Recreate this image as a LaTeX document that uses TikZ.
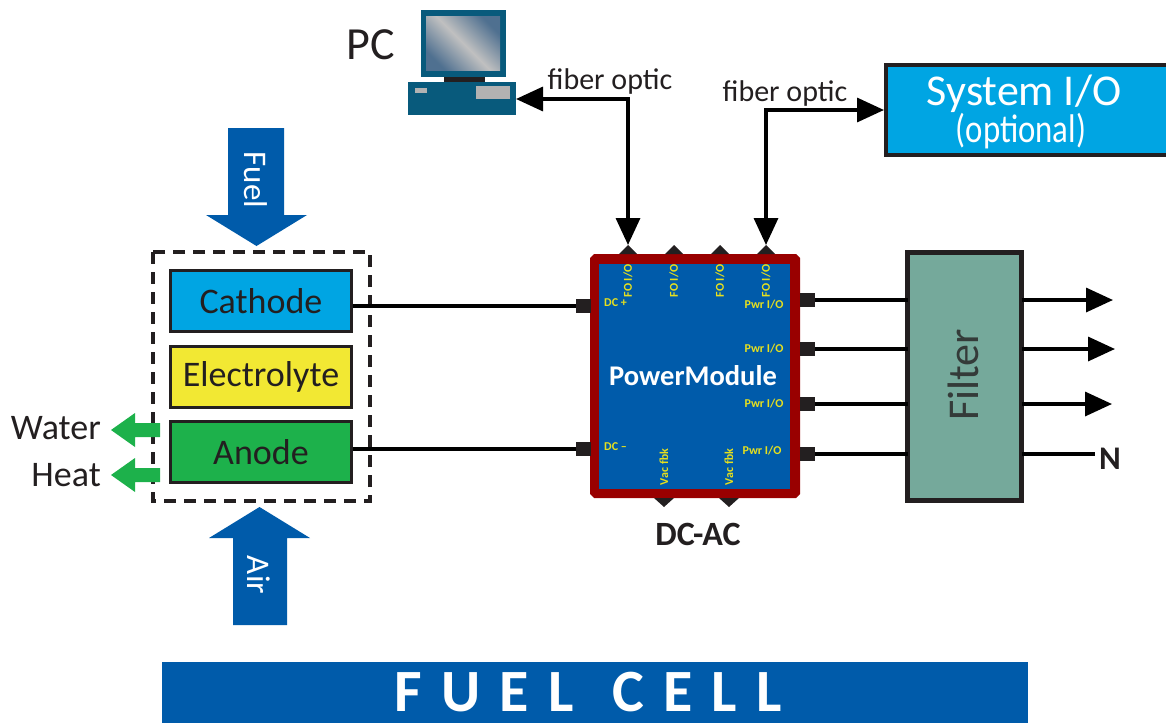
\documentclass[tikz,border=0pt]{standalone}
\usepackage{fontspec}
\setmainfont{Carlito}
\newfontfamily\spaced[LetterSpace=9.6]{Carlito}
\usetikzlibrary{arrows.meta}
\definecolor{ink}{HTML}{231F20}
\definecolor{bluedark}{HTML}{005BAA}
\definecolor{cyanbox}{HTML}{00A5E3}
\definecolor{yellowbox}{HTML}{F2E833}
\definecolor{greenbox}{HTML}{1DB14B}
\definecolor{redframe}{HTML}{990000}
\definecolor{filterfill}{HTML}{75A99B}
\definecolor{pcblue}{HTML}{085A7C}
\definecolor{labelyellow}{HTML}{E6E01E}
\definecolor{screenlight}{HTML}{C0C0C0}
\definecolor{screendark}{HTML}{4F7090}
\newcommand{\fsz}[1]{\fontsize{#1}{#1}\selectfont}
\tikzset{
  cellbox/.style={draw=ink,line width=2.5pt,minimum width=181pt,minimum height=61pt,inner sep=0pt,text=ink,font=\fsz{36}},
  port/.style={fill=ink,minimum size=14.5pt,inner sep=0pt,outer sep=0pt},
  wire/.style={draw=black,line width=3.4pt},
  fiber/.style={draw=black,line width=3.4pt,{Triangle[length=27pt,width=24pt]}-{Triangle[length=27pt,width=24pt]}},
  outarrow/.style={draw=black,line width=3.4pt,-{Triangle[length=27pt,width=24pt]}},
  tiny/.style={text=labelyellow,font=\bfseries\fsz{12},inner sep=0pt},
  side/.style={text=ink,inner sep=0pt},
  blockarrow/.style={fill=bluedark},
  heatarrow/.style={fill=greenbox}
}
\begin{document}
\begin{tikzpicture}[x=1pt,y=-1pt]
\useasboundingbox (0,0) rectangle (1166,723);
% PC icon
\fill[pcblue] (421,10) rectangle (506,77);
\shade[shading=axis,left color=screendark,right color=screendark,middle color=screenlight,shading angle=135] (426,16) rectangle (500,70);
\fill[ink] (444,77) rectangle (485,82);
\fill[pcblue] (408,82) rectangle (516,115);
\fill[gray!60] (415,88) rectangle (427,93);
\fill[gray!60] (476,86) rectangle (510,99);
\coordinate (pcport) at (516,99);
\node[side,font=\fsz{46}] (pclabel) at (371,45) {PC};
% System I/O
\node[draw=ink,fill=cyanbox,line width=4pt,minimum width=300pt,minimum height=90pt,anchor=west,inner sep=0pt] (sysio) at (884,110) {};
\node[text=white,font=\fsz{44},inner sep=0pt] (systxt) at (1024,93.5) {System I/O};
\node[text=white,font=\fsz{40},inner sep=0pt,xscale=0.82] (opttxt) at (1021,131) {(optional)};
\node[side,font=\fsz{30}] (fo1) at (610,81) {fiber optic};
\node[side,font=\fsz{30}] (fo2) at (785,93) {fiber optic};
% Power module
\fill[redframe] (594,254) -- (796,254) -- (800,258) -- (800,494) -- (796,498) -- (594,498) -- (590,494) -- (590,258) -- cycle;
\fill[bluedark] (599,264) rectangle (790,489);
\foreach \n/\x in {a/628,b/674,c/720,d/766}{
  \fill[ink] (\x-9,254) -- (\x,245) -- (\x+9,254) -- cycle;
  \coordinate (top\n) at (\x,245);
  \node[tiny,rotate=90] at (\x,281) {FO I/O};
}
\foreach \x in {664,729}{
  \fill[ink] (\x-10,498) -- (\x,507) -- (\x+10,498) -- cycle;
  \node[tiny,rotate=90] at (\x,467) {Vac fbk};
}
\node[tiny] at (764,305) {Pwr I/O};
\node[tiny] at (764,349) {Pwr I/O};
\node[tiny] at (764,404) {Pwr I/O};
\node[tiny] at (762,451) {Pwr I/O};
\node[tiny,anchor=west] at (604,303) {DC +};
\node[tiny,anchor=west] at (604,447) {DC –};
\node[text=white,font=\bfseries\fsz{28.5},inner sep=0pt] (pm) at (693,376) {PowerModule};
\node[side,font=\bfseries\fsz{34}] (dcac) at (698,534) {DC-AC};
% Ports
\node[port] (pl1) at (583.5,306) {};
\node[port] (pl2) at (583.5,449) {};
\node[port] (pr1) at (807.5,300) {};
\node[port] (pr2) at (807.5,349) {};
\node[port] (pr3) at (807.5,404) {};
\node[port] (pr4) at (807.5,454) {};
% Filter
\node[draw=ink,fill=filterfill,line width=5.5pt,minimum width=114pt,minimum height=248pt,inner sep=0pt,outer sep=0pt] (filter) at (964.5,376.5) {};
\node[text=ink!80!filterfill,font=\fsz{44},rotate=90,inner sep=0pt] (filtertxt) at (963,375) {Filter};
\coordinate (o1) at (1113,300);
\coordinate (o2) at (1115,349);
\coordinate (o3) at (1112,404);
\coordinate (o4) at (1095,454);
\node[side,font=\bfseries\fsz{33}] (nlabel) at (1110,459) {N};
% Left stack
\draw[ink,line width=3.2pt,dash pattern=on 12pt off 8pt] (153,252) rectangle (370,501);
\node[cellbox,fill=cyanbox] (cathode) at (261,301) {Cathode};
\node[cellbox,fill=yellowbox] (electrolyte) at (261,377) {Electrolyte};
\node[cellbox,fill=greenbox] (anode) at (261,452) {Anode};
% Block arrows
\fill[blockarrow] (228,128) -- (284,128) -- (284,215) -- (307,215) -- (256.5,246) -- (206,215) -- (228,215) -- cycle;
\node[text=white,font=\fsz{33},rotate=-90,inner sep=0pt] (fuel) at (256,180) {Fuel};
\fill[blockarrow] (233,625) -- (287,625) -- (287,538) -- (310,538) -- (259.5,507) -- (209,538) -- (233,538) -- cycle;
\node[text=white,font=\fsz{33},rotate=-90,inner sep=0pt] (air) at (259,575) {Air};
% Green arrows
\foreach \y in {430,475}{
  \fill[heatarrow] (160,\y-7) -- (135,\y-7) -- (135,\y-17) -- (111,\y) -- (135,\y+17) -- (135,\y+7) -- (160,\y+7) -- cycle;
}
\node[side,font=\fsz{36},anchor=east] (water) at (101,428) {Water};
\node[side,font=\fsz{36},anchor=east] (heat) at (101,475) {Heat};
% Connectors
\draw[fiber] (pcport) -| (topa);
\draw[fiber] (topd) |- (sysio.west);
\draw[wire] (cathode.east |- pl1) -- (pl1.west);
\draw[wire] (anode.east |- pl2) -- (pl2.west);
\draw[wire] (pr1.east) -- (filter.west |- pr1);
\draw[wire] (pr2.east) -- (filter.west |- pr2);
\draw[wire] (pr3.east) -- (filter.west |- pr3);
\draw[wire] (pr4.east) -- (filter.west |- pr4);
\draw[outarrow] (filter.east |- o1) -- (o1);
\draw[outarrow] (filter.east |- o2) -- (o2);
\draw[outarrow] (filter.east |- o3) -- (o3);
\draw[wire] (filter.east |- o4) -- (o4);
% Bottom bar
\node[fill=bluedark,minimum width=866pt,minimum height=61pt,inner sep=0pt,outer sep=0pt] (bar) at (595,692.5) {};
\node[text=white,font=\bfseries\spaced\fsz{60},inner sep=0pt] (bartxt) at (588,692.5) {F U E L\ \ C E L L};
\end{tikzpicture}
\end{document}
